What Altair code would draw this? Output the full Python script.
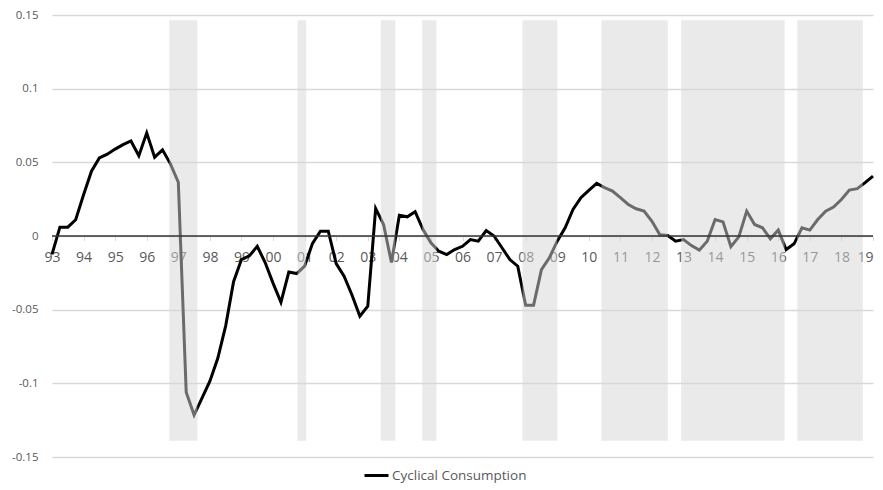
import json
import altair as alt
import pandas as pd

# Quarterly series, 1993Q1 .. 2019Q1 (index 0 .. 104)
VALUES = [
    -0.0125, 0.006, 0.006, 0.011, 0.028, 0.044, 0.053, 0.0555, 0.059, 0.062,
    0.0645, 0.0545, 0.070, 0.0535, 0.0585, 0.049, 0.0365, -0.106, -0.1215, -0.110,
    -0.0985, -0.083, -0.061, -0.031, -0.016, -0.0135, -0.007, -0.018, -0.032, -0.045,
    -0.0245, -0.0255, -0.0205, -0.005, 0.0033, 0.0033, -0.0187, -0.0273, -0.040, -0.0545,
    -0.0477, 0.0187, 0.0078, -0.018, 0.014, 0.013, 0.0165, 0.0044, -0.0046, -0.0103,
    -0.0126, -0.0092, -0.007, -0.0024, -0.0035, 0.0037, 0.0, -0.008, -0.016, -0.0205,
    -0.047, -0.047, -0.0228, -0.0148, -0.0035, 0.0056, 0.018, 0.026, 0.031, 0.0357,
    0.0328, 0.0305, 0.026, 0.0214, 0.0185, 0.0169, 0.010, 0.0008, 0.0003, -0.0035,
    -0.0024, -0.0065, -0.0096, -0.0035, 0.0112, 0.0096, -0.0072, -0.0006, 0.0169, 0.0078,
    0.0056, -0.0019, 0.004, -0.0092, -0.0053, 0.0056, 0.004, 0.0112, 0.0169, 0.0196,
    0.0248, 0.0312, 0.0321, 0.0362, 0.0407,
]

# Shaded periods (in quarter index units)
BAND_START = [14.86, 31.1, 41.65, 46.9, 59.6, 69.6, 79.7, 94.4]
BAND_END = [18.41, 32.2, 43.5, 48.7, 64.0, 78.0, 92.8, 102.7]
BAND_TOP = 0.1465
BAND_BOTTOM = -0.139

TICK_LABELS = ["93", "94", "95", "96", "97", "98", "99", "00", "01", "02", "03", "04",
               "05", "06", "07", "08", "09", "10", "11", "12", "13", "14", "15", "16",
               "17", "18", "19"]
Y_TICKS = [-0.15, -0.1, -0.05, 0, 0.05, 0.1, 0.15]
SERIES = "Cyclical Consumption"

FONT = "Open Sans"

line_df = pd.DataFrame({"q": list(range(len(VALUES))), "v": VALUES, "series": SERIES})
band_df = pd.DataFrame({"s": BAND_START, "e": BAND_END,
                        "top": [BAND_TOP] * len(BAND_START),
                        "bot": [BAND_BOTTOM] * len(BAND_START)})
zero_df = pd.DataFrame({"z": [0]})

xscale = alt.Scale(domain=[0, len(VALUES) - 1], nice=False, zero=False)
yscale = alt.Scale(domain=[-0.15, 0.15], nice=False)

last_q = len(VALUES) - 1
label_expr = json.dumps(TICK_LABELS) + "[round(datum.value/4)]"

line = alt.Chart(line_df).mark_line(strokeWidth=3, strokeJoin="miter").encode(
    x=alt.X("q:Q", scale=xscale, axis=alt.Axis(
        values=list(range(0, len(VALUES), 4)), tickCount=60, labelExpr=label_expr,
        title=None, domain=False, grid=False, ticks=True, tickColor="#D9D9D9", tickSize=4,
        labelFont=FONT, labelFontSize=14, labelColor="#595959", labelPadding=10,
        labelAlign={"condition": {"test": f"datum.value >= {last_q}", "value": "right"},
                    "value": "center"},
        labelFlush=False, labelOverlap=False, offset=-220.5, zindex=0)),
    y=alt.Y("v:Q", scale=yscale, axis=alt.Axis(
        values=Y_TICKS, tickCount=20,
        labelExpr="replace(format(datum.value, '.2~f'), '\u2212', '-')",
        title=None, domain=False, ticks=False, grid=True, gridColor="#D9D9D9",
        gridWidth=1.3, labelFont=FONT, labelFontSize=11.5, labelColor="#595959",
        labelPadding=14, labelOverlap=False, zindex=0)),
    color=alt.Color("series:N", scale=alt.Scale(domain=[SERIES], range=["#000000"]),
                    legend=alt.Legend(title=None, orient="none", legendX=311, legendY=447,
                                      symbolType="stroke", symbolStrokeWidth=3,
                                      symbolSize=576, labelFont=FONT, labelFontSize=13.5,
                                      labelColor="#595959", labelOffset=2, padding=0)),
)

bands = alt.Chart(band_df).mark_rect(color="#D6D6D6", opacity=0.5).encode(
    x=alt.X("s:Q", title=None), x2="e:Q",
    y=alt.Y("top:Q", title=None), y2="bot:Q")

zero = alt.Chart(zero_df).mark_rule(color="#333333", strokeWidth=1.3).encode(
    y=alt.Y("z:Q", title=None))

chart = alt.layer(line, bands, zero).properties(
    width=821, height=442,
    autosize=alt.AutoSizeParams(type="none"),
    padding={"left": 44, "top": 7, "right": 2, "bottom": 29},
).configure(font=FONT).configure_view(stroke=None).configure_axisX(labelOverlap=False)

chart.save("out.html", embed_options={"renderer": "svg", "actions": False})
